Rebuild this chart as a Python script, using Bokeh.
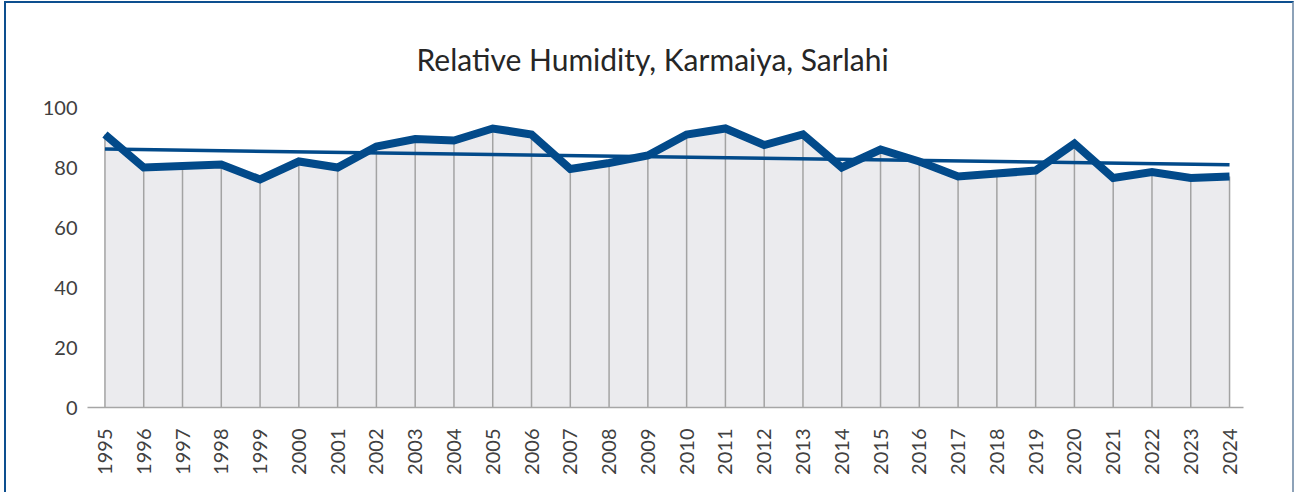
import numpy as np
from math import pi
from bokeh.plotting import figure
from bokeh.models import Range1d, FixedTicker
from bokeh.embed import file_html
from bokeh.resources import INLINE

# ---- data ----
years = list(range(1995, 2025))
humidity = [91, 80, 80.5, 81, 76, 82, 80, 87, 89.5, 89,
            93, 91, 79.5, 81.5, 84, 91, 93, 87.5, 91, 80,
            86, 82, 77, 78, 79, 88, 76.5, 78.5, 76.5, 77]
y_ticks = [0, 20, 40, 60, 80, 100]
title_text = "Relative Humidity, Karmaiya, Sarlahi"

# linear trend line (least squares) of the series
slope, intercept = np.polyfit(years, humidity, 1)
trend_x = [years[0], years[-1]]
trend_y = [slope * x + intercept for x in trend_x]

BLUE = "#024a8a"
W, H = 1290, 491
X0, X1 = 1994.55, 2024.36

p = figure(width=W, height=H, output_backend="svg", toolbar_location=None,
           x_range=Range1d(X0, X1), y_range=Range1d(0, 100),
           min_border_left=81, min_border_right=53,
           min_border_top=104, min_border_bottom=87,
           background_fill_color="white", border_fill_color="white")
p.margin = (1, 0, 0, 4)
p.styles = {"border-top": "2px solid #0d4f8f", "border-left": "2px solid #0d4f8f",
            "border-right": "2px solid #8da2b8"}
p.outline_line_color = None
p.xgrid.visible = False
p.ygrid.visible = False

p.varea(x=years, y1=[0] * len(years), y2=humidity, fill_color="#ebebee")
p.segment(x0=years, y0=[0] * len(years), x1=years, y1=humidity,
          line_color="#a3a3a3", line_width=1.5)
p.line(trend_x, trend_y, line_color=BLUE, line_width=3.5)
p.line(years, humidity, line_color=BLUE, line_width=8, line_join="miter")

tick_font = "Lato"
p.xaxis.ticker = FixedTicker(ticks=years)
p.xaxis.major_label_orientation = pi / 2
p.xaxis.axis_line_color = "#a6a6a6"
p.xaxis.axis_line_width = 1.5
p.xaxis.major_tick_line_color = None
p.xaxis.minor_tick_line_color = None
p.xaxis.major_label_standoff = 15
p.xaxis.major_label_text_font = tick_font
p.xaxis.major_label_text_font_size = "20px"
p.xaxis.major_label_text_color = "#404040"

p.yaxis.ticker = FixedTicker(ticks=y_ticks)
p.yaxis.axis_line_color = None
p.yaxis.major_tick_line_color = None
p.yaxis.minor_tick_line_color = None
p.yaxis.major_label_standoff = 4
p.yaxis.major_label_text_font = tick_font
p.yaxis.major_label_text_font_size = "20px"
p.yaxis.major_label_text_color = "#404040"

p.title.text = title_text
p.title.align = "left"
p.title.offset = 329
p.title.standoff = 62
p.title.text_font = "Lato"
p.title.text_font_style = "normal"
p.title.text_font_size = "30px"
p.title.text_color = "#262626"

open("out.html", "w").write(file_html(p, INLINE))
